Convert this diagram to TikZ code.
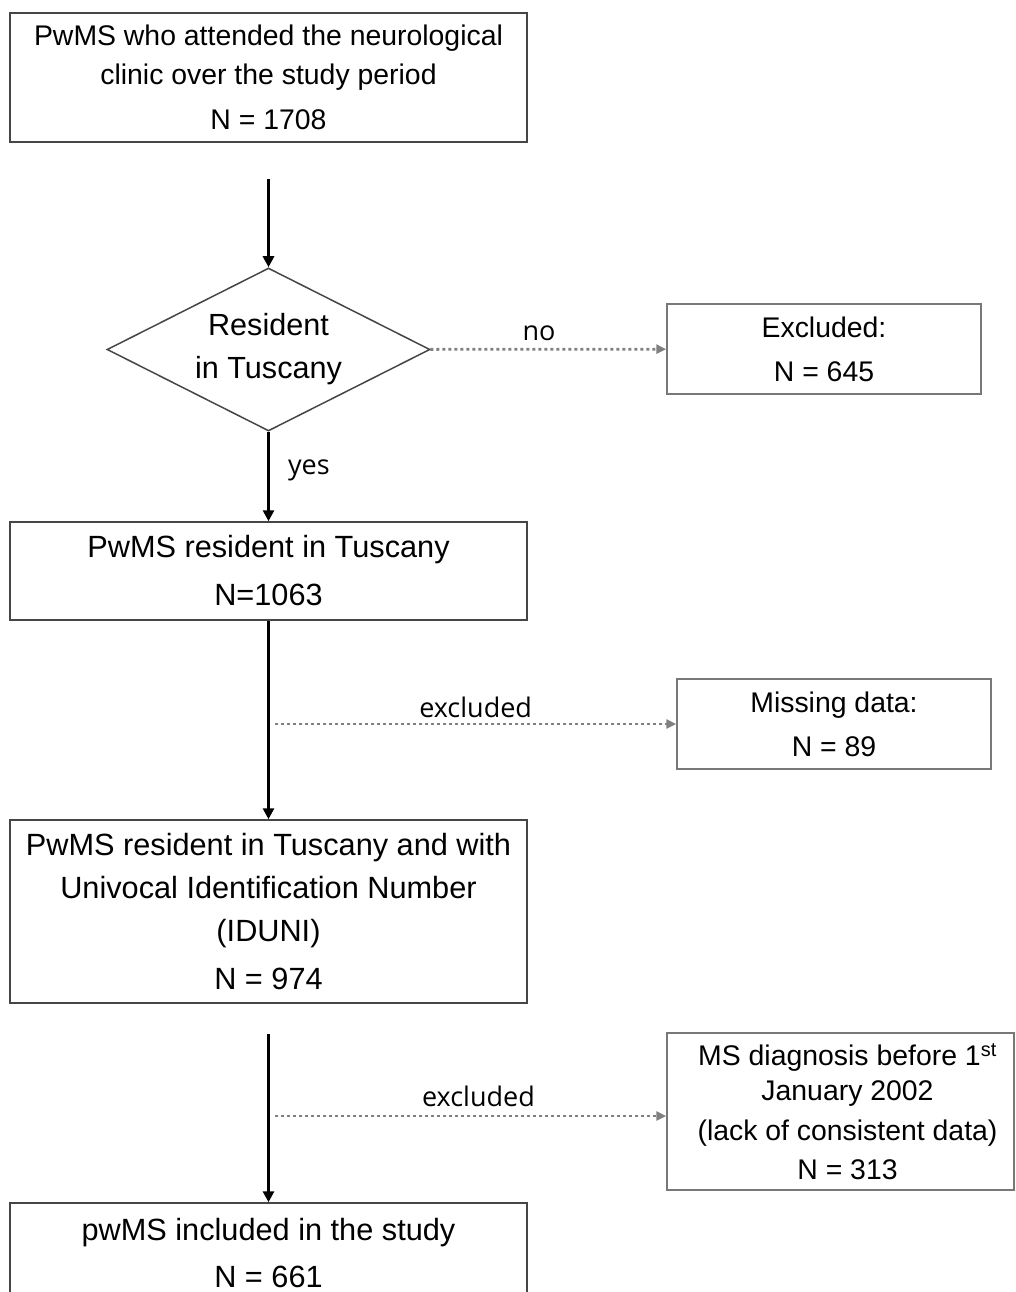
\documentclass[tikz,border=0pt]{standalone}
\usepackage{fontspec}
\usepackage{tikz}
\usepackage{xcolor}
\setmainfont{Liberation Sans}
\newfontfamily\labelfont{Open Sans}
\usetikzlibrary{arrows.meta,shapes.geometric}
\definecolor{framegray}{RGB}{70,70,70}
\definecolor{sidegray}{RGB}{120,120,120}
\definecolor{dotgray}{RGB}{128,128,128}

\begin{document}
\begin{tikzpicture}[x=1pt, y=-1pt,
    box/.style={draw=framegray, line width=1.5pt, inner sep=0pt, align=center, minimum width=517pt},
    sidebox/.style={draw=sidegray, line width=1.5pt, inner sep=0pt, align=center},
    flow/.style={line width=3pt, -{Triangle[length=11pt,width=11pt]}},
    side/.style={dotgray, line width=2.8pt, dash pattern=on 3pt off 3pt, -{Triangle[length=10pt,width=9pt]}},
    lbl/.style={font=\labelfont\fontsize{27}{30}\selectfont, inner sep=0pt, text=black}]
    \clip (0,0) rectangle (1015,1292);

    % Main column
    \node[box, minimum height=129pt, font=\fontsize{28.4}{39}\selectfont] (attended) at (268.5,77.5)
        {PwMS who attended the neurological\\ clinic over the study period\\[6pt] N = 1708};
    \node[diamond, aspect=2, draw=framegray, line width=1.5pt, inner sep=0pt, align=center,
        minimum width=323pt, minimum height=163pt, font=\fontsize{30.6}{43}\selectfont] (tuscany) at (268.5,349.5)
        {Resident\\ in Tuscany};
    \node[box, minimum height=98pt, font=\fontsize{30.7}{48}\selectfont] (resident) at (268.5,571)
        {PwMS resident in Tuscany\\ N=1063};
    \node[box, minimum height=183pt, font=\fontsize{30.7}{43}\selectfont] (iduni) at (268.5,911.5)
        {PwMS resident in Tuscany and with\\ Univocal Identification Number\\ (IDUNI)\\[5pt] N = 974};
    \node[box, minimum height=100pt, font=\fontsize{30.7}{47}\selectfont] (included) at (268.5,1253)
        {pwMS included in the study\\ N = 661};

    % Exclusions
    \node[sidebox, minimum width=314pt, minimum height=90pt, font=\fontsize{28.4}{44}\selectfont] (excluded) at (824,349)
        {Excluded:\\ N = 645};
    \node[sidebox, minimum width=314pt, minimum height=90pt, font=\fontsize{28.4}{44}\selectfont] (missing) at (834,724)
        {Missing data:\\ N = 89};
    \node[sidebox, minimum width=347pt, minimum height=157pt, font=\fontsize{28.4}{38}\selectfont] (diagnosis) at (840.5,1111.5)
        {\hspace{14pt}MS diagnosis before 1\textsuperscript{st}\\[-3pt] \hspace{14pt}January 2002\\[2pt] \hspace{14pt}(lack of consistent data)\\[1pt] \hspace{14pt}N = 313};

    % Arrows
    \draw[flow, shorten <=36pt] (attended) -- (tuscany);
    \draw[side] (tuscany) -- (excluded) node[lbl, pos=.46, above=7pt] {no};
    \draw[flow] (tuscany) -- (resident) node[lbl, pos=.43, right=18pt] {yes};
    \draw[flow] (resident) -- (iduni);
    \coordinate (gap1) at (275,724);
    \draw[side] (gap1) -- (missing) node[lbl, midway, above=5pt] {excluded};
    \draw[flow, shorten <=30pt] (iduni) -- (included);
    \coordinate (gap2) at (275,1116);
    \draw[side] (gap2) -- (diagnosis.west |- gap2) node[lbl, pos=.52, above=8pt] {excluded};
\end{tikzpicture}
\end{document}
